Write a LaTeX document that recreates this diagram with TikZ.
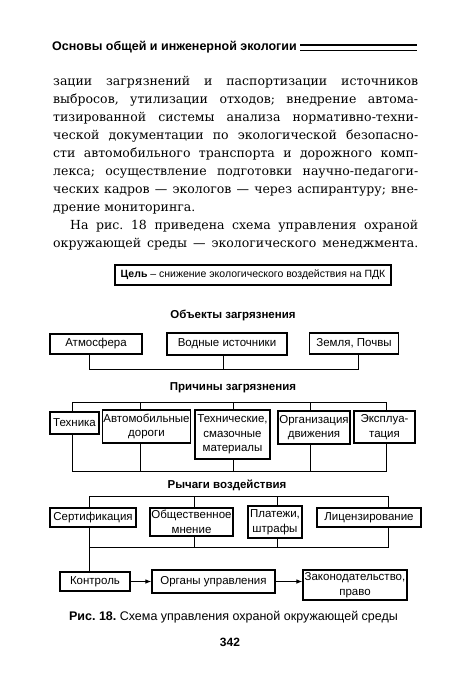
\documentclass[tikz,border=0pt]{standalone}
\usepackage{fontspec}
\usepackage{graphicx}
\setmainfont{Liberation Sans}
\newfontfamily\bodyfont{DejaVu Serif}
\usetikzlibrary{arrows.meta}
\frenchspacing
\newsavebox\jbox
\newcommand\jline[2]{\sbox\jbox{#2}\ifdim\wd\jbox>#1\resizebox{#1}{\height}{#2}\else\makebox[#1][s]{#2}\fi}
\begin{document}
\begin{tikzpicture}[x=1pt,y=-1pt,
  box/.style={draw, line width=1.2pt, inner sep=1pt, align=center,
    font=\fontsize{11.5}{14.5}\selectfont},
  ln/.style={line width=0.9pt},
  lbl/.style={font=\bfseries\fontsize{11.5}{13}\selectfont, inner sep=0pt},
  arr/.style={line width=0.9pt, -{Latex[length=6pt,width=4.5pt]}},
  body/.style={anchor=base west, inner sep=0pt, font=\bodyfont\fontsize{12.5}{15}\selectfont}]
\useasboundingbox (0,0) rectangle (450,699);
% header
\node[anchor=base west, inner sep=0pt, font=\bfseries\fontsize{12.5}{14}\selectfont] (head) at (52,50.5) {Основы общей и инженерной экологии};
\draw[line width=2.2pt] (300,45) -- (417,45);
\draw[line width=0.9pt] (300,50) -- (417,50);
% body text
\node[body] (t1) at (53,85) {\jline{365pt}{зации загрязнений и паспортизации источников}};
\node[body] (t2) at (53,103) {\jline{365pt}{выбросов, утилизации отходов; внедрение автома-}};
\node[body] (t3) at (53,121) {\jline{365pt}{тизированной системы анализа нормативно-техни-}};
\node[body] (t4) at (53,139) {\jline{365pt}{ческой документации по экологической безопасно-}};
\node[body] (t5) at (53,157) {\jline{365pt}{сти автомобильного транспорта и дорожного комп-}};
\node[body] (t6) at (53,175) {\jline{365pt}{лекса; осуществление подготовки научно-педагоги-}};
\node[body] (t7) at (53,193) {\jline{365pt}{ческих кадров — экологов — через аспирантуру; вне-}};
\node[body] (t8) at (53,211) {дрение мониторинга.};
\node[body] (t9) at (70,229) {\jline{348pt}{На рис. 18 приведена схема управления охраной}};
\node[body] (t10) at (53,247) {\jline{365pt}{окружающей среды — экологического менеджмента.}};
% goal
\node[box, minimum width=276pt, minimum height=20pt, font=\fontsize{10.5}{12}\selectfont] (goal) at (253,275) {\textbf{Цель} – снижение экологического воздействия на ПДК};
% objects
\node[lbl] (lobj) at (233,315) {Объекты загрязнения};
\node[box, minimum width=92pt, minimum height=20pt] (atm) at (96,344) {Атмосфера};
\node[box, minimum width=120pt, minimum height=22pt] (vod) at (227,344) {Водные источники};
\node[box, minimum width=89pt, minimum height=21pt] (zem) at (354,343.5) {Земля, Почвы};
\coordinate (oa) at (89,369);
\coordinate (ob) at (223,369);
\coordinate (oc) at (358,369);
\draw[ln] (oa |- atm.south) -- (oa) -- (oc) -- (oc |- zem.south);
\draw[ln] (ob |- vod.south) -- (ob);
% causes
\node[lbl] (lcause) at (233,388) {Причины загрязнения};
\node[box, minimum width=49pt, minimum height=22pt] (tex) at (74.5,423) {Техника};
\node[box, minimum width=81pt, minimum height=33pt] (avt) at (146.5,426.5) {Автомобильные\\дороги};
\node[box, minimum width=75pt, minimum height=49pt] (smz) at (232.5,434.5) {Технические,\\смазочные\\материалы};
\node[box, minimum width=72pt, minimum height=33pt] (orgd) at (314,427.5) {Организация\\движения};
\node[box, minimum width=61pt, minimum height=32pt] (exp) at (384.5,427) {Эксплуа-\\тация};
\coordinate (pu1) at (72,402);
\coordinate (pu2) at (140,402);
\coordinate (pu3) at (233,402);
\coordinate (pu4) at (310,402);
\coordinate (pu5) at (386,402);
\coordinate (pl1) at (72,471);
\coordinate (pl2) at (140,471);
\coordinate (pl3) at (233,471);
\coordinate (pl4) at (310,471);
\coordinate (pl5) at (386,471);
\draw[ln] (pu1 |- tex.north) -- (pu1) -- (pu5) -- (pu5 |- exp.north);
\draw[ln] (pu2) -- (pu2 |- avt.north);
\draw[ln] (pu3) -- (pu3 |- smz.north);
\draw[ln] (pu4) -- (pu4 |- orgd.north);
\draw[ln] (pl1 |- tex.south) -- (pl1) -- (pl5) -- (pl5 |- exp.south);
\draw[ln] (pl2) -- (pl2 |- avt.south);
\draw[ln] (pl3) -- (pl3 |- smz.south);
\draw[ln] (pl4) -- (pl4 |- orgd.south);
% levers
\node[lbl] (llev) at (227,485) {Рычаги воздействия};
\node[box, minimum width=86pt, minimum height=19pt] (sert) at (93,517.5) {Сертификация};
\node[box, minimum width=83pt, minimum height=28pt] (obsh) at (191.5,522) {Общественное\\мнение};
\node[box, minimum width=54pt, minimum height=32pt] (plat) at (275,522) {Платежи,\\штрафы};
\node[box, minimum width=104pt, minimum height=19pt] (lic) at (369,517.5) {Лицензирование};
\coordinate (ru1) at (89,496);
\coordinate (ru2) at (194,496);
\coordinate (ru3) at (277,496);
\coordinate (ru4) at (388,496);
\coordinate (rl1) at (89,547);
\coordinate (rl2) at (194,547);
\coordinate (rl3) at (277,547);
\coordinate (rl4) at (388,547);
\draw[ln] (ru1 |- sert.north) -- (ru1) -- (ru4) -- (ru4 |- lic.north);
\draw[ln] (ru2) -- (ru2 |- obsh.north);
\draw[ln] (ru3) -- (ru3 |- plat.north);
\draw[ln] (rl1 |- sert.south) -- (rl1) -- (rl4) -- (rl4 |- lic.south);
\draw[ln] (rl2) -- (rl2 |- obsh.south);
\draw[ln] (rl3) -- (rl3 |- plat.south);
% control row
\node[box, minimum width=70pt, minimum height=19pt] (kon) at (95,581.5) {Контроль};
\node[box, minimum width=123pt, minimum height=23pt] (org) at (213.5,581.5) {Органы управления};
\node[box, minimum width=104pt, minimum height=30pt] (zak) at (355,585) {Законодательство,\\право};
\draw[ln] (rl1) -- (rl1 |- kon.north);
\draw[arr] (kon.east) -- (org.west);
\draw[arr] (org.east) -- (org.east -| zak.west);
% caption
\node[inner sep=0pt, font=\fontsize{12.5}{14}\selectfont] (cap) at (233.5,617) {\textbf{Рис. 18.} Схема управления охраной окружающей среды};
\node[inner sep=0pt, font=\bfseries\fontsize{12}{14}\selectfont] (page) at (230,642) {342};
\end{tikzpicture}
\end{document}
